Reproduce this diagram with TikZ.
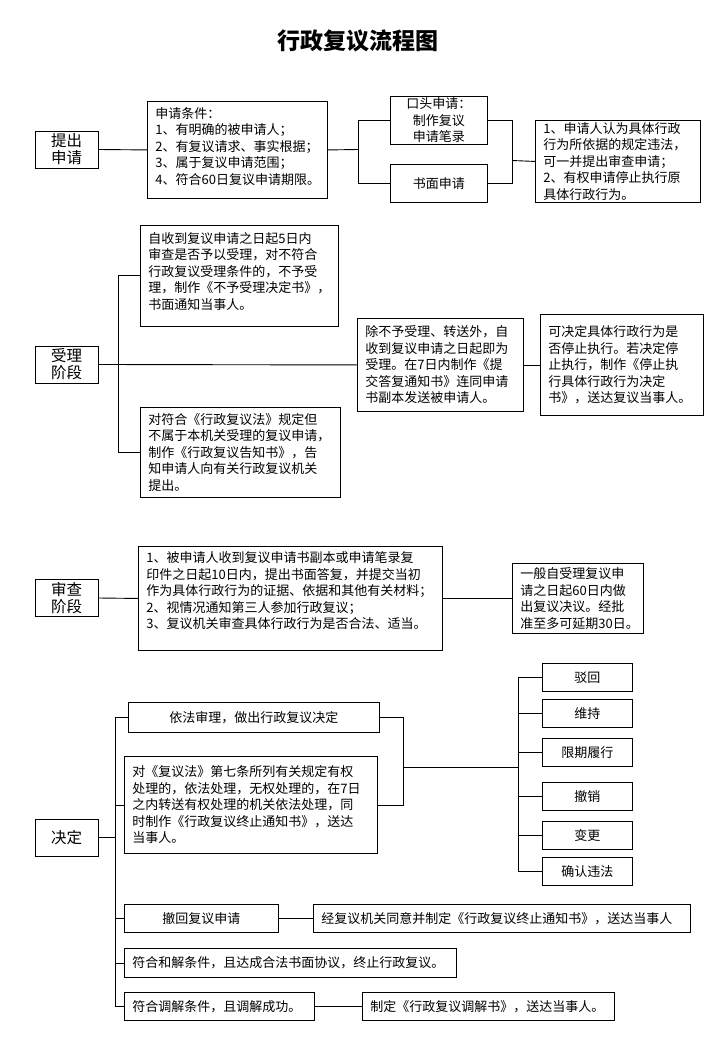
\documentclass[tikz,border=0pt]{standalone}
\usepackage{fontspec}
\setmainfont{Noto Sans CJK SC}
\usetikzlibrary{positioning}

\begin{document}
\begin{tikzpicture}[x=1pt,y=-1pt,line width=0.9pt,
    stage/.style={draw,align=center,minimum width=63pt,minimum height=37pt,inner sep=1pt,font=\fontsize{15.5}{17}\selectfont},
    txt/.style={draw,align=left,inner xsep=8pt,inner ysep=2pt,anchor=north west,font=\fontsize{13}{16.5}\selectfont},
    ctr/.style={draw,align=center,inner sep=1pt,anchor=north west,font=\fontsize{13}{16.5}\selectfont}]
    \useasboundingbox (0,0) rectangle (720,1040);

    \node[font=\bfseries\fontsize{23}{28}\selectfont] (title) at (358,41) {行政复议流程图};

    % 提出申请
    \node[stage] (submit) at (66.5,149.5) {提出\\申请};
    \node[txt,text width=164pt,minimum height=97pt] (cond) at (147,101)
        {申请条件：\\1、有明确的被申请人；\\2、有复议请求、事实根据；\\3、属于复议申请范围；\\4、符合60日复议申请期限。\\[-8pt]\mbox{}};
    \node[ctr,minimum width=97pt,minimum height=48pt] (oral) at (390,96) {口头申请：\\制作复议\\申请笔录};
    \node[ctr,minimum width=97pt,minimum height=38pt] (written) at (390,164) {书面申请};
    \node[txt,text width=149pt,minimum height=81pt] (rights) at (535,120)
        {1、申请人认为具体行政\\行为所依据的规定违法，\\可一并提出审查申请；\\2、有权申请停止执行原\\具体行政行为。};
    \coordinate (f1) at (358,149.5);
    \coordinate (j1) at (512,160.5);
    \draw (submit.east) -- (cond.west);
    \draw (cond.east) -- (f1);
    \draw (oral.west) -| (f1);
    \draw (written.west) -| (f1);
    \draw (oral.east) -| (j1);
    \draw (written.east) -| (j1);
    \draw (j1) -- (rights.west);

    % 受理阶段
    \node[stage] (accept) at (66.5,364.5) {受理\\阶段};
    \node[txt,text width=182pt,minimum height=101pt] (reject) at (140,225)
        {自收到复议申请之日起5日内\\审查是否予以受理，对不符合\\行政复议受理条件的，不予受\\理，制作《不予受理决定书》，\\书面通知当事人。\\[-6pt]\mbox{}};
    \node[txt,text width=150pt,minimum height=93pt] (take) at (357,318)
        {除不予受理、转送外，自\\收到复议申请之日起即为\\受理。在7日内制作《提\\交答复通知书》连同申请\\书副本发送被申请人。};
    \node[txt,text width=184pt,minimum height=90pt] (transfer) at (140,407)
        {对符合《行政复议法》规定但\\不属于本机关受理的复议申请，\\制作《行政复议告知书》，告\\知申请人向有关行政复议机关\\提出。};
    \node[txt,text width=147pt,minimum height=101pt] (suspend) at (540,314)
        {可决定具体行政行为是\\否停止执行。若决定停\\止执行，制作《停止执\\行具体行政行为决定\\书》，送达复议当事人。};
    \coordinate (f2) at (118,364.5);
    \draw (accept.east) -- (take.west);
    \draw (reject.west) -| (f2);
    \draw (transfer.west) -| (f2);
    \draw (take.east) -- (suspend.west);

    % 审查阶段
    \node[stage] (examine) at (66.5,598) {审查\\阶段};
    \node[txt,text width=288pt,minimum height=104pt] (answer) at (138,546)
        {1、被申请人收到复议申请书副本或申请笔录复\\印件之日起10日内，提出书面答复，并提交当初\\作为具体行政行为的证据、依据和其他有关材料；\\2、视情况通知第三人参加行政复议；\\3、复议机关审查具体行政行为是否合法、适当。\\ \mbox{}};
    \node[txt,text width=115pt,minimum height=70pt] (term) at (512,563)
        {一般自受理复议申\\请之日起60日内做\\出复议决议。经批\\准至多可延期30日。};
    \draw (examine.east) -- (answer.west);
    \draw (answer.east) -- (term.west);

    % 决定
    \node[stage] (decide) at (66.5,837.5) {决定};
    \node[ctr,minimum width=251pt,minimum height=30pt] (ruling) at (128,702) {依法审理，做出行政复议决定};
    \node[txt,text width=237pt,minimum height=97pt] (refer) at (124,756)
        {对《复议法》第七条所列有关规定有权\\处理的，依法处理，无权处理的，在7日\\之内转送有权处理的机关依法处理，同\\时制作《行政复议终止通知书》，送达\\当事人。};
    \node[ctr,minimum width=90pt,minimum height=28pt] (r1) at (542,663) {驳回};
    \node[ctr,minimum width=90pt,minimum height=28pt] (r2) at (542,699) {维持};
    \node[ctr,minimum width=90pt,minimum height=28pt] (r3) at (542,738) {限期履行};
    \node[ctr,minimum width=90pt,minimum height=28pt] (r4) at (542,782) {撤销};
    \node[ctr,minimum width=90pt,minimum height=28pt] (r5) at (542,821) {变更};
    \node[ctr,minimum width=90pt,minimum height=28pt] (r6) at (542,857) {确认违法};
    \node[ctr,minimum width=154pt,minimum height=28pt] (withdraw) at (124,904) {撤回复议申请};
    \node[txt,text width=361pt,minimum height=28pt] (endnote) at (313,904)
        {经复议机关同意并制定《行政复议终止通知书》，送达当事人};
    \node[txt,text width=316pt,minimum height=29pt] (settle) at (124,948)
        {符合和解条件，且达成合法书面协议，终止行政复议。};
    \node[txt,text width=174pt,minimum height=28pt] (mediate) at (124,992)
        {符合调解条件，且调解成功。};
    \node[txt,text width=236pt,minimum height=28pt] (mednote) at (362,992)
        {制定《行政复议调解书》，送达当事人。};
    \coordinate (f4) at (115,837.5);
    \coordinate (j4) at (403,767);
    \coordinate (j5) at (518,767);
    \draw (decide.east) -- (f4);
    \draw (ruling.west) -| (f4);
    \draw (refer.west) -| (f4);
    \draw (withdraw.west) -| (f4);
    \draw (settle.west) -| (f4);
    \draw (mediate.west) -| (f4);
    \draw (ruling.east) -| (j4);
    \draw (refer.east) -| (j4);
    \draw (j4) -- (j5);
    \draw (r1.west) -| (j5);
    \draw (r2.west) -| (j5);
    \draw (r3.west) -| (j5);
    \draw (r4.west) -| (j5);
    \draw (r5.west) -| (j5);
    \draw (r6.west) -| (j5);
    \draw (withdraw.east) -- (endnote.west);
    \draw (mediate.east) -- (mednote.west);
\end{tikzpicture}
\end{document}
